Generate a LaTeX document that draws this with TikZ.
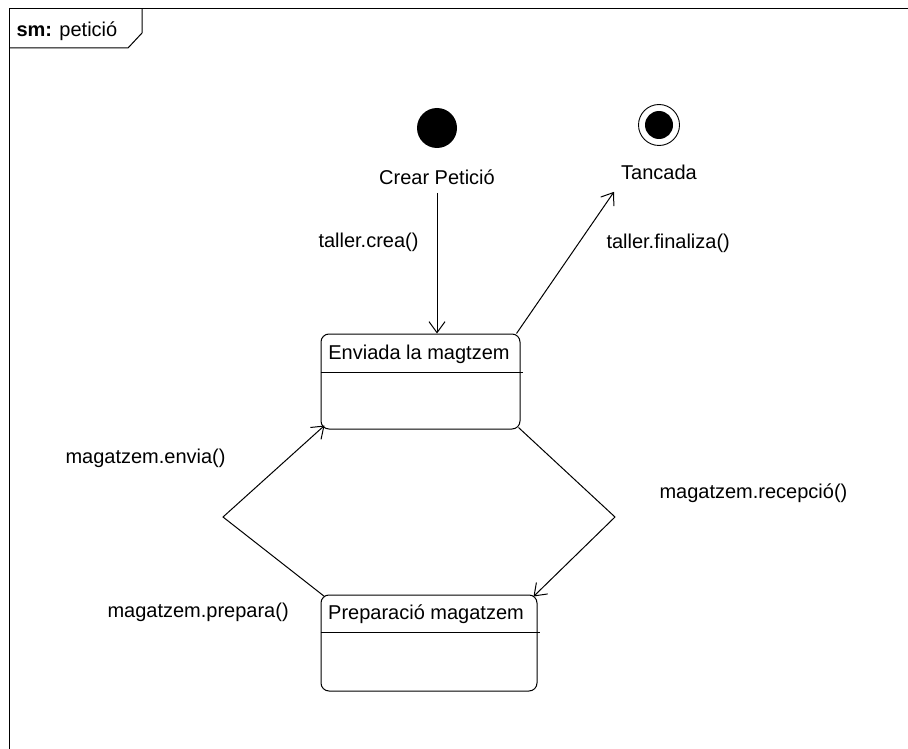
\documentclass[tikz,border=0pt]{standalone}
\usepackage{fontspec}
\setmainfont{Liberation Sans}
\usetikzlibrary{arrows.meta}
\begin{document}
\begin{tikzpicture}[x=1pt,y=-1pt,
  font=\fontsize{20}{24}\selectfont,
  line width=1pt,
  trans/.style={draw, -{Straight Barb[length=11pt,width=16pt,line width=1pt]}},
  lbl/.style={inner sep=0pt, anchor=west},
  statebox/.style={draw, rounded corners=8pt, inner sep=0pt},
  initial/.style={circle, fill=black, inner sep=0pt, minimum size=40pt},
  finalring/.style={circle, draw, inner sep=0pt, minimum size=41pt, line width=0.9pt},
  finaldot/.style={circle, fill=black, inner sep=0pt, minimum size=28pt}]
\useasboundingbox (0,0) rectangle (908,749);
\fill[white] (0,0) rectangle (908,749);

% diagram frame with its name tab
\draw (908,9) -- (9,9) -- (9,749);
\draw (142,9) -- (142,33) -- (128,48) -- (9,48);
\node[lbl] (title) at (16,31) {\textbf{sm:} petició};

% pseudo states
\node[initial] (init) at (437,128) {};
\node[inner sep=0pt] (initlbl) at (437,177) {Crear Petició};
\node[finalring] (fin) at (659,125) {};
\node[finaldot] (findot) at (fin.center) {};
\node[inner sep=0pt] (finlbl) at (659,172) {Tancada};

% states
\node[statebox, minimum width=199pt, minimum height=95pt] (s1) at (420.5,381.5) {};
\draw (s1.west |- 0,372) -- ([xshift=2pt]s1.east |- 0,372);
\node[inner sep=0pt] (s1name) at (419,354) {Enviada la magtzem};

\node[statebox, minimum width=216pt, minimum height=96pt] (s2) at (429,643) {};
\draw (s2.west |- 0,632) -- ([xshift=2pt]s2.east |- 0,632);
\node[inner sep=0pt] (s2name) at (426,614) {Preparació magatzem};

% bend points of the two return transitions
\coordinate (bendR) at (615,517);
\coordinate (bendL) at (223,517);

% transitions
\draw[trans] ([yshift=-8pt]initlbl.south) -- (initlbl.south |- s1.north);
\draw[trans] ([xshift=-4pt]s1.north east) -- ([shift={(-45pt,-12pt)}]finlbl.south);
\draw[trans] ([shift={(-2pt,2pt)}]s1.south east) -- (bendR) -- ([shift={(-4pt,-2pt)}]s2.north east);
\draw[trans] ([shift={(4pt,-2pt)}]s2.north west) -- (bendL) -- ([shift={(4pt,4pt)}]s1.south west);

% transition labels
\node[lbl] (tcrea) at (318,242) {taller.crea()};
\node[lbl] (tfin) at (606,243) {taller.finaliza()};
\node[lbl] (menv) at (65,458) {magatzem.envia()};
\node[lbl] (mrec) at (659,493) {magatzem.recepció()};
\node[lbl] (mprep) at (107,612) {magatzem.prepara()};
\end{tikzpicture}
\end{document}
